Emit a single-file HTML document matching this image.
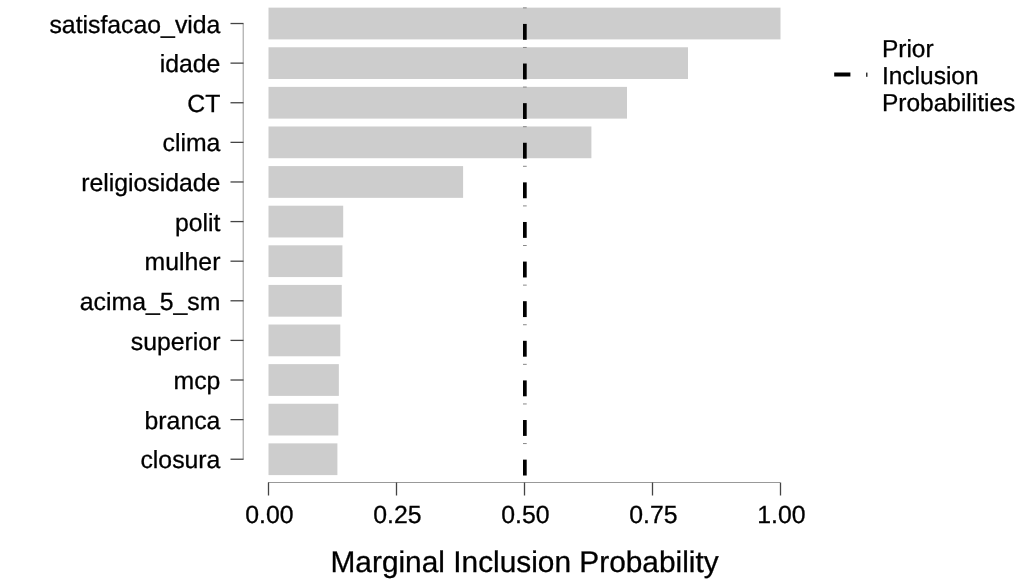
<!DOCTYPE html>
<html><head><meta charset="utf-8"><style>
html,body{margin:0;padding:0;background:#fff;}
svg{display:block;will-change:transform;}
text{font-family:"Liberation Sans",Arial,sans-serif;font-size:24.8px;fill:#000;text-rendering:geometricPrecision;stroke:#000;stroke-width:0.3px;}
</style></head><body>
<svg width="1024" height="585" viewBox="0 0 1024 585">
<rect width="1024" height="585" fill="#fff"/>
<rect x="268.5" y="7.65" width="512.00" height="31.75" fill="#cdcdcd"/>
<rect x="268.5" y="47.26" width="419.50" height="31.75" fill="#cdcdcd"/>
<rect x="268.5" y="86.87" width="358.50" height="31.75" fill="#cdcdcd"/>
<rect x="268.5" y="126.48" width="322.90" height="31.75" fill="#cdcdcd"/>
<rect x="268.5" y="166.09" width="194.60" height="31.75" fill="#cdcdcd"/>
<rect x="268.5" y="205.70" width="74.70" height="31.75" fill="#cdcdcd"/>
<rect x="268.5" y="245.31" width="73.90" height="31.75" fill="#cdcdcd"/>
<rect x="268.5" y="284.92" width="73.25" height="31.75" fill="#cdcdcd"/>
<rect x="268.5" y="324.53" width="71.80" height="31.75" fill="#cdcdcd"/>
<rect x="268.5" y="364.14" width="70.35" height="31.75" fill="#cdcdcd"/>
<rect x="268.5" y="403.75" width="69.80" height="31.75" fill="#cdcdcd"/>
<rect x="268.5" y="443.36" width="68.90" height="31.75" fill="#cdcdcd"/>
<rect x="523" y="23.92" width="3.7" height="15.88" fill="#000"/>
<rect x="523" y="7.35" width="3.7" height="1" fill="#888"/>
<rect x="523" y="63.53" width="3.7" height="15.87" fill="#000"/>
<rect x="523" y="46.96" width="3.7" height="1" fill="#888"/>
<rect x="523" y="103.15" width="3.7" height="15.88" fill="#000"/>
<rect x="523" y="86.57" width="3.7" height="1" fill="#888"/>
<rect x="523" y="142.76" width="3.7" height="15.88" fill="#000"/>
<rect x="523" y="126.18" width="3.7" height="1" fill="#888"/>
<rect x="523" y="182.37" width="3.7" height="15.88" fill="#000"/>
<rect x="523" y="165.79" width="3.7" height="1" fill="#888"/>
<rect x="523" y="221.98" width="3.7" height="15.88" fill="#000"/>
<rect x="523" y="205.40" width="3.7" height="1" fill="#888"/>
<rect x="523" y="261.58" width="3.7" height="15.88" fill="#000"/>
<rect x="523" y="245.01" width="3.7" height="1" fill="#888"/>
<rect x="523" y="301.19" width="3.7" height="15.88" fill="#000"/>
<rect x="523" y="284.62" width="3.7" height="1" fill="#888"/>
<rect x="523" y="340.80" width="3.7" height="15.88" fill="#000"/>
<rect x="523" y="324.23" width="3.7" height="1" fill="#888"/>
<rect x="523" y="380.41" width="3.7" height="15.88" fill="#000"/>
<rect x="523" y="363.84" width="3.7" height="1" fill="#888"/>
<rect x="523" y="420.02" width="3.7" height="15.88" fill="#000"/>
<rect x="523" y="403.45" width="3.7" height="1" fill="#888"/>
<rect x="523" y="459.63" width="3.7" height="15.88" fill="#000"/>
<rect x="523" y="443.06" width="3.7" height="1" fill="#888"/>
<line x1="243.2" y1="23.5" x2="243.2" y2="459.5" stroke="#999" stroke-width="1"/>
<line x1="230.5" y1="23.52" x2="243.5" y2="23.52" stroke="#444" stroke-width="1.3"/>
<text x="220.4" y="32.62" text-anchor="end">satisfacao_vida</text>
<line x1="230.5" y1="63.13" x2="243.5" y2="63.13" stroke="#444" stroke-width="1.3"/>
<text x="220.4" y="72.23" text-anchor="end">idade</text>
<line x1="230.5" y1="102.75" x2="243.5" y2="102.75" stroke="#444" stroke-width="1.3"/>
<text x="220.4" y="111.84" text-anchor="end">CT</text>
<line x1="230.5" y1="142.36" x2="243.5" y2="142.36" stroke="#444" stroke-width="1.3"/>
<text x="220.4" y="151.46" text-anchor="end">clima</text>
<line x1="230.5" y1="181.97" x2="243.5" y2="181.97" stroke="#444" stroke-width="1.3"/>
<text x="220.4" y="191.06" text-anchor="end">religiosidade</text>
<line x1="230.5" y1="221.58" x2="243.5" y2="221.58" stroke="#444" stroke-width="1.3"/>
<text x="220.4" y="230.68" text-anchor="end">polit</text>
<line x1="230.5" y1="261.19" x2="243.5" y2="261.19" stroke="#444" stroke-width="1.3"/>
<text x="220.4" y="270.29" text-anchor="end">mulher</text>
<line x1="230.5" y1="300.79" x2="243.5" y2="300.79" stroke="#444" stroke-width="1.3"/>
<text x="220.4" y="309.89" text-anchor="end">acima_5_sm</text>
<line x1="230.5" y1="340.40" x2="243.5" y2="340.40" stroke="#444" stroke-width="1.3"/>
<text x="220.4" y="349.50" text-anchor="end">superior</text>
<line x1="230.5" y1="380.01" x2="243.5" y2="380.01" stroke="#444" stroke-width="1.3"/>
<text x="220.4" y="389.12" text-anchor="end">mcp</text>
<line x1="230.5" y1="419.62" x2="243.5" y2="419.62" stroke="#444" stroke-width="1.3"/>
<text x="220.4" y="428.73" text-anchor="end">branca</text>
<line x1="230.5" y1="459.23" x2="243.5" y2="459.23" stroke="#444" stroke-width="1.3"/>
<text x="220.4" y="468.33" text-anchor="end">closura</text>
<line x1="268" y1="482.5" x2="780" y2="482.5" stroke="#999" stroke-width="1"/>
<line x1="268.5" y1="482.5" x2="268.5" y2="495.5" stroke="#444" stroke-width="1.3"/>
<text x="269.4" y="522.6" text-anchor="middle">0.00</text>
<line x1="396.5" y1="482.5" x2="396.5" y2="495.5" stroke="#444" stroke-width="1.3"/>
<text x="397.4" y="522.6" text-anchor="middle">0.25</text>
<line x1="524.5" y1="482.5" x2="524.5" y2="495.5" stroke="#444" stroke-width="1.3"/>
<text x="525.4" y="522.6" text-anchor="middle">0.50</text>
<line x1="652.5" y1="482.5" x2="652.5" y2="495.5" stroke="#444" stroke-width="1.3"/>
<text x="653.4" y="522.6" text-anchor="middle">0.75</text>
<line x1="780.5" y1="482.5" x2="780.5" y2="495.5" stroke="#444" stroke-width="1.3"/>
<text x="781.4" y="522.6" text-anchor="middle">1.00</text>
<text x="524.6" y="572" text-anchor="middle" style="font-size:29.85px">Marginal Inclusion Probability</text>
<rect x="834.2" y="72.5" width="16.2" height="4" fill="#000"/>
<rect x="866" y="72.6" width="1.5" height="4.2" fill="#333"/>
<text x="881.9" y="56.7" style="font-size:24.5px">Prior</text>
<text x="881.9" y="83.8" style="font-size:24.5px">Inclusion</text>
<text x="881.9" y="110.5" style="font-size:24.5px">Probabilities</text>
</svg>
</body></html>
